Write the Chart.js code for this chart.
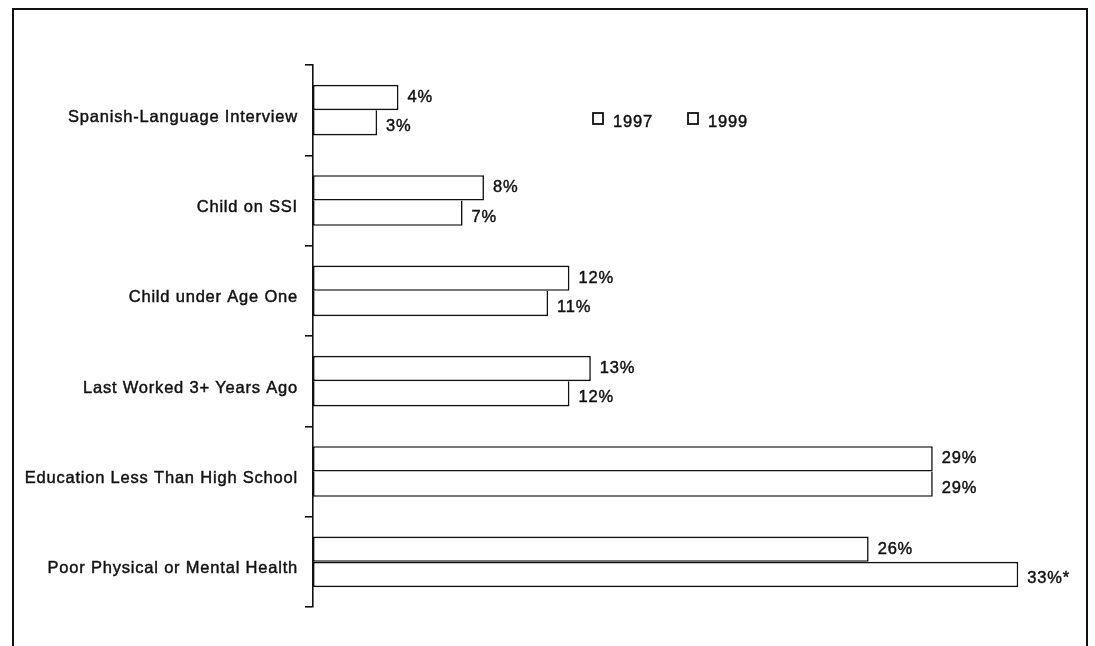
<!DOCTYPE html>
<html>
<head>
<meta charset="utf-8">
<script src="https://cdn.jsdelivr.net/npm/chart.js@4.4.1/dist/chart.umd.min.js"></script>
<style>
  html, body { margin: 0; padding: 0; background: #fff; }
  #wrap { position: relative; width: 1095px; height: 646px; overflow: hidden; }
  #frame { position: absolute; left: 12px; top: 8px; width: 1076px; height: 700px; border: 2px solid #111; box-sizing: border-box; }
  canvas { position: absolute; left: 0; top: 0; }
</style>
</head>
<body>
<div id="wrap">
  <div id="frame"></div>
  <canvas id="chart" width="1095" height="646"></canvas>
</div>
<script>
const categories = [
  "Spanish-Language Interview",
  "Child on SSI",
  "Child under Age One",
  "Last Worked 3+ Years Ago",
  "Education Less Than High School",
  "Poor Physical or Mental Health"
];
const values1997 = [4, 8, 12, 13, 29, 26];
const values1999 = [3, 7, 11, 12, 29, 33];
const labels1997 = ["4%", "8%", "12%", "13%", "29%", "26%"];
const labels1999 = ["3%", "7%", "11%", "12%", "29%", "33%*"];
const seriesNames = ["1997", "1999"];

const FONT = "'Liberation Sans', Arial, sans-serif";
const SPACING = "0.8px";

// letter spacing to mimic the wide typeface of the original
const spacingPlugin = {
  id: "spacing",
  beforeDraw(chart) {
    chart.ctx.letterSpacing = SPACING;
  }
};

function heavyText(ctx, text, x, y) {
  ctx.fillText(text, x, y);
  ctx.strokeText(text, x, y);
}

const valueLabels = {
  id: "valueLabels",
  afterDatasetsDraw(chart) {
    const ctx = chart.ctx;
    const texts = [labels1997, labels1999];
    const shift = [0, 4];
    ctx.save();
    ctx.letterSpacing = SPACING;
    ctx.font = "16.5px " + FONT;
    ctx.fillStyle = "#111";
    ctx.strokeStyle = "#111";
    ctx.lineWidth = 0.45;
    ctx.textAlign = "left";
    ctx.textBaseline = "middle";
    chart.data.datasets.forEach((ds, di) => {
      chart.getDatasetMeta(di).data.forEach((bar, i) => {
        heavyText(ctx, texts[di][i], bar.x + 9, bar.y + shift[di]);
      });
    });
    ctx.restore();
  }
};

const legendPlugin = {
  id: "boxLegend",
  afterDraw(chart) {
    const ctx = chart.ctx;
    const xs = [593, 688];
    ctx.save();
    ctx.letterSpacing = SPACING;
    ctx.font = "16.5px " + FONT;
    ctx.fillStyle = "#111";
    ctx.strokeStyle = "#111";
    ctx.textBaseline = "middle";
    seriesNames.forEach((name, i) => {
      ctx.lineWidth = 1.8;
      ctx.strokeRect(xs[i], 113, 10, 11);
      ctx.lineWidth = 0.45;
      heavyText(ctx, name, xs[i] + 20, 122);
    });
    ctx.restore();
  }
};

new Chart(document.getElementById("chart"), {
  type: "bar",
  data: {
    labels: categories,
    datasets: [
      {
        label: seriesNames[0],
        data: values1997,
        backgroundColor: "#fff",
        borderColor: "#111",
        borderWidth: 1.6,
        borderSkipped: false,
        categoryPercentage: 0.56,
        barPercentage: 1.0
      },
      {
        label: seriesNames[1],
        data: values1999,
        backgroundColor: "#fff",
        borderColor: "#111",
        borderWidth: 1.6,
        // share the dividing line with the 1997 bar when it is not longer
        borderSkipped: (c) => values1999[c.dataIndex] <= values1997[c.dataIndex] ? "top" : false,
        categoryPercentage: 0.56,
        barPercentage: 1.0
      }
    ]
  },
  options: {
    indexAxis: "y",
    responsive: false,
    animation: false,
    layout: { padding: { top: 65, bottom: 39, left: 0, right: 34 } },
    plugins: {
      legend: { display: false },
      tooltip: { enabled: false }
    },
    scales: {
      x: {
        display: false,
        min: 0,
        max: 35
      },
      y: {
        afterFit(scale) { scale.width = 313; },
        border: { display: true, color: "#111", width: 1.6 },
        grid: {
          offset: true,
          drawOnChartArea: false,
          drawTicks: true,
          tickLength: 8,
          color: "#111",
          lineWidth: 1.6
        },
        ticks: {
          color: "#111",
          font: { family: FONT, size: 16.5 },
          textStrokeColor: "#111",
          textStrokeWidth: 0.45,
          padding: 7,
          labelOffset: 7
        }
      }
    }
  },
  plugins: [spacingPlugin, valueLabels, legendPlugin]
});
</script>
</body>
</html>
